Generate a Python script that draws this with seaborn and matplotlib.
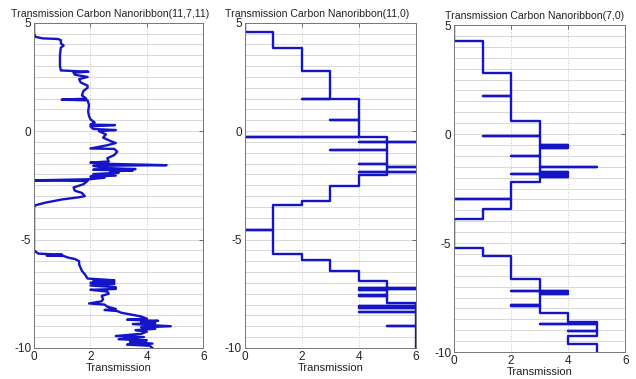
import numpy as np
import pandas as pd
import seaborn as sns
import matplotlib
matplotlib.use("Agg")
import matplotlib.pyplot as plt
from matplotlib.ticker import MultipleLocator

# ---- (11,7,11) ribbon: transmission vs energy, read top to bottom ----
e_11_7_11 = [5.0, 4.5, 4.35, 4.28, 4.25, 4.2, 4.05, 3.95, 3.85, 3.5, 3.0, 2.8, 2.74, 2.7, 2.6, 2.5,
             2.4, 2.25, 2.1, 2.0, 1.85, 1.65, 1.5, 1.45, 1.42, 1.2, 0.9, 0.7, 0.55, 0.4, 0.3, 0.28,
             0.22, 0.1, 0.05, 0.0, -0.15, -0.3, -0.45, -0.55, -0.65, -0.8, -0.82, -0.95, -1.1,
             -1.25, -1.4, -1.45, -1.5, -1.57, -1.6, -1.7, -1.75, -1.78, -1.82, -1.85, -1.92,
             -1.98, -2.05, -2.1, -2.15, -2.22, -2.27, -2.3, -2.45, -2.6, -2.75, -2.85, -3.0,
             -3.05, -3.15, -3.3, -3.42, -3.5, -5.5, -5.65, -5.7, -5.74, -5.76, -5.83, -5.9,
             -6.0, -6.15, -6.3, -6.45, -6.6, -6.8, -6.88, -6.92, -6.96, -7.0, -7.05, -7.12,
             -7.2, -7.28, -7.32, -7.4, -7.5, -7.6, -7.75, -7.85, -7.95, -8.0, -8.1, -8.2, -8.25,
             -8.3, -8.38, -8.45, -8.55, -8.65, -8.7, -8.75, -8.8, -8.85, -8.9, -9.0, -9.05,
             -9.12, -9.18, -9.25, -9.35, -9.45, -9.5, -9.6, -9.65, -9.72, -9.8, -9.85, -9.9,
             -10.0]
t_11_7_11 = [0.0, 0.0, 0.05, 0.3, 0.85, 0.95, 0.95, 1.05, 0.95, 0.92, 0.92, 0.95, 1.93, 1.4, 1.45,
             1.9, 1.6, 1.65, 1.9, 1.9, 1.75, 1.7, 1.85, 0.98, 1.9, 1.95, 1.92, 1.95, 2.0, 2.15,
             2.0, 2.87, 2.0, 2.1, 2.9, 2.3, 2.55, 2.45, 2.7, 2.9, 2.6, 2.0, 2.85, 2.95, 2.85,
             2.6, 2.65, 2.0, 2.3, 4.7, 2.1, 2.5, 3.6, 2.1, 3.5, 2.7, 3.0, 2.1, 2.9, 2.0, 2.5,
             1.95, 0.0, 1.9, 1.75, 1.4, 1.45, 1.7, 1.8, 1.6, 1.0, 0.4, 0.05, 0.0, 0.0, 0.15,
             1.0, 0.45, 1.05, 1.2, 1.45, 1.6, 1.6, 1.65, 1.7, 1.8, 1.9, 2.85, 2.1, 2.85, 2.0,
             2.85, 2.0, 2.9, 2.9, 2.0, 2.6, 2.65, 2.4, 2.45, 2.4, 1.95, 2.5, 2.6, 2.9, 2.5,
             2.95, 3.1, 3.4, 3.8, 4.0, 3.3, 4.4, 3.8, 4.3, 3.5, 4.85, 3.8, 4.3, 3.6, 4.0, 3.8,
             2.9, 3.9, 3.0, 4.0, 3.4, 4.2, 3.3, 4.1, 4.2]

# ---- (11,0) ribbon: plateau edges, plateau levels and narrow resonances ----
edges_11_0 = [5.0, 4.55, 3.85, 2.78, 1.47, -0.26, -2.04, -2.55, -3.24, -3.43, -5.65, -5.93,
              -6.43, -6.93, -7.95, -10.0]
levels_11_0 = [0, 1, 2, 3, 4, 5, 4, 3, 2, 1, 2, 3, 4, 5, 6]
spike_e_11_0 = [1.47, 0.5, -0.26, -0.49, -0.52, -0.85, -1.5, -1.65, -1.88, -1.9, -4.58,
                -7.22, -7.24, -7.28, -7.3, -7.35, -7.55, -7.62, -8.05, -8.1, -8.15, -8.36, -9.0]
spike_t_11_0 = [2, 3, 0, 4, 6, 3, 4, 6, 4, 6, 0,
                4, 6, 4, 6, 4, 4, 4, 4, 4, 4, 4, 5]

# ---- (7,0) ribbon ----
edges_7_0 = [5.0, 4.26, 2.79, 0.59, -2.21, -3.42, -3.88, -5.21, -5.58, -6.65, -8.2, -8.6,
             -9.25, -9.64, -10.0]
levels_7_0 = [0, 1, 2, 3, 2, 1, 0, 1, 2, 3, 4, 5, 4, 5]
spike_e_7_0 = [1.76, -0.09, -0.5, -0.55, -0.6, -0.66, -1.03, -1.5, -1.72, -1.8, -1.83, -1.88,
               -1.95, -2.97, -7.2, -7.22, -7.28, -7.32, -7.82, -7.9, -8.7, -9.05]
spike_t_7_0 = [1, 1, 4, 4, 4, 4, 2, 5, 4, 4, 2, 4,
               4, 0, 2, 4, 4, 4, 2, 2, 3, 4]

titles = ["Transmission Carbon Nanoribbon(11,7,11)",
          "Transmission Carbon Nanoribbon(11,0)",
          "Transmission Carbon Nanoribbon(7,0)"]


def staircase(edges, levels, spike_e, spike_t):
    """Trace a quantised transmission curve from its plateaus and sharp resonances."""
    e_out, t_out = [], []
    spikes = list(zip(spike_e, spike_t))
    for i, lev in enumerate(levels):
        hi, lo = edges[i], edges[i + 1]
        e_out.append(hi)
        t_out.append(lev)
        inside = sorted([s for s in spikes if hi > s[0] >= lo], key=lambda s: -s[0])
        for se, st in inside:
            e_out += [se, se, se]
            t_out += [lev, st, lev]
        e_out.append(lo)
        t_out.append(lev)
    return t_out, e_out


t2, e2 = staircase(edges_11_0, levels_11_0, spike_e_11_0, spike_t_11_0)
t3, e3 = staircase(edges_7_0, levels_7_0, spike_e_7_0, spike_t_7_0)

curves = [
    pd.DataFrame({"T": t_11_7_11, "E": e_11_7_11}),
    pd.DataFrame({"T": t2, "E": e2}),
    pd.DataFrame({"T": t3, "E": e3}),
]

sns.set_theme(style="white")
plt.rcParams["font.family"] = ["Liberation Sans", "DejaVu Sans"]
plt.rcParams["axes.unicode_minus"] = False

fig = plt.figure(figsize=(6.36, 3.79), dpi=100)
fig.patch.set_facecolor("white")

# axes boxes in figure fractions
boxes = [
    [0.0535, 0.082, 0.266, 0.858],
    [0.385, 0.082, 0.269, 0.858],
    [0.714, 0.071, 0.269, 0.863],
]
title_x = [0.45, 0.42, 0.47]

for df, box, title, tx in zip(curves, boxes, titles, title_x):
    ax = fig.add_axes(box)
    sns.lineplot(data=df, x="T", y="E", sort=False, estimator=None, ax=ax,
                 color="#1414c8", linewidth=1.7)
    ax.set_xlim(0, 6)
    ax.set_ylim(-10, 5)
    ax.set_xticks([0, 2, 4, 6])
    ax.set_yticks([-10, -5, 0, 5])
    ax.yaxis.set_minor_locator(MultipleLocator(0.5))
    ax.grid(True, axis="y", which="both", color="#d8d8d8", linewidth=0.7, linestyle="-")
    ax.grid(True, axis="x", which="major", color="#c4c4c4", linewidth=0.7, linestyle=":")
    ax.set_axisbelow(True)
    ax.tick_params(axis="both", which="major", direction="in", length=3, width=0.6,
                   colors="#555555", labelcolor="#222222", labelsize=8.5, pad=2,
                   top=True, right=True)
    ax.tick_params(axis="y", which="minor", length=0)
    for s in ax.spines.values():
        s.set_color("#777777")
        s.set_linewidth(0.7)
    ax.set_xlabel("Transmission", fontsize=8, color="#222222", labelpad=0)
    ax.set_ylabel("")
    ax.set_title(title, fontsize=7.6, color="#222222", pad=4, x=tx)

fig.savefig("out.png", dpi=100, facecolor="white")
